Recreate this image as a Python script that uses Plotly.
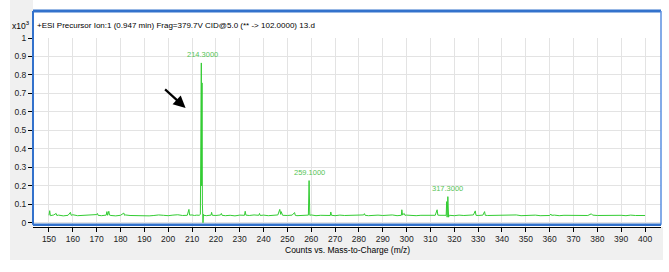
import plotly.graph_objects as go

# Spectrum profile (counts x10^3 vs m/z)
spectrum_mz = [
    150.0, 150.3, 150.6, 152.0, 153.0, 153.3, 154.0, 156.0, 158.0, 159.0, 159.3,
    160.0, 162.0, 164.0, 166.0, 168.0, 170.0, 170.3, 170.6, 172.0, 174.0, 174.3,
    174.6, 175.1, 175.4, 176.0, 178.0, 180.0, 181.4, 181.7, 182.0, 184.0, 186.0,
    188.0, 190.0, 192.0, 194.0, 196.0, 198.0, 200.0, 202.0, 204.0, 206.0, 208.0,
    208.7, 209.0, 210.0, 211.0, 212.0, 213.0, 213.5, 213.6, 213.7, 213.9, 214.0,
    214.2, 214.35, 214.6, 214.8, 215.0, 216.0, 218.0, 218.2, 218.5, 220.0, 222.0,
    222.3, 222.6, 224.0, 226.0, 228.0, 230.0, 232.0, 232.3, 232.6, 234.0, 236.0,
    238.0, 238.3, 238.6, 240.0, 242.0, 244.0, 246.0, 246.8, 247.2, 247.4, 247.7,
    248.0, 250.0, 252.0, 253.0, 253.3, 254.0, 256.0, 258.0, 258.8, 259.1, 259.4,
    260.0, 262.0, 264.0, 266.0, 268.0, 268.2, 268.5, 270.0, 272.0, 274.0, 276.0,
    278.0, 280.0, 282.0, 282.3, 282.6, 284.0, 286.0, 288.0, 290.0, 292.0, 294.0,
    296.0, 297.8, 298.0, 298.3, 299.0, 299.3, 300.0, 302.0, 304.0, 306.0, 308.0,
    310.0, 312.0, 312.8, 313.1, 314.0, 316.0, 316.6, 316.8, 317.0, 317.3, 317.6,
    317.9, 318.0, 320.0, 322.0, 324.0, 326.0, 328.0, 328.8, 329.1, 330.0, 332.0,
    332.7, 333.0, 334.0, 336.0, 338.0, 340.0, 342.0, 344.0, 346.0, 348.0, 350.0,
    352.0, 354.0, 356.0, 358.0, 360.0, 360.5, 360.8, 362.0, 364.0, 366.0, 368.0,
    370.0, 372.0, 374.0, 376.0, 377.5, 377.8, 378.0, 380.0, 382.0, 384.0, 386.0,
    388.0, 390.0, 392.0, 394.0, 396.0, 398.0, 400.0,
]
spectrum_int = [
    0.040, 0.065, 0.038, 0.042, 0.050, 0.039, 0.041, 0.037, 0.040, 0.056, 0.040,
    0.043, 0.038, 0.040, 0.039, 0.041, 0.044, 0.050, 0.040, 0.038, 0.041, 0.060,
    0.040, 0.062, 0.041, 0.039, 0.037, 0.040, 0.052, 0.040, 0.042, 0.039, 0.038,
    0.041, 0.040, 0.037, 0.039, 0.042, 0.040, 0.038, 0.041, 0.043, 0.039, 0.040,
    0.072, 0.041, 0.042, 0.039, 0.041, 0.040, 0.045, 0.250, 0.050, 0.865, 0.200,
    0.757, 0.100, 0.000, 0.045, 0.040, 0.038, 0.041, 0.056, 0.040, 0.039, 0.042,
    0.050, 0.040, 0.038, 0.040, 0.037, 0.041, 0.040, 0.062, 0.041, 0.039, 0.042,
    0.040, 0.050, 0.039, 0.041, 0.038, 0.040, 0.042, 0.072, 0.045, 0.060, 0.041,
    0.040, 0.039, 0.041, 0.055, 0.040, 0.038, 0.040, 0.039, 0.041, 0.228, 0.040,
    0.042, 0.038, 0.040, 0.041, 0.039, 0.058, 0.040, 0.038, 0.041, 0.039, 0.040,
    0.037, 0.040, 0.042, 0.049, 0.040, 0.038, 0.040, 0.041, 0.039, 0.040, 0.042,
    0.038, 0.040, 0.070, 0.042, 0.050, 0.040, 0.041, 0.039, 0.038, 0.040, 0.041,
    0.039, 0.040, 0.070, 0.041, 0.040, 0.041, 0.040, 0.114, 0.030, 0.141, 0.030,
    0.041, 0.040, 0.038, 0.041, 0.039, 0.040, 0.042, 0.064, 0.040, 0.039, 0.041,
    0.060, 0.040, 0.039, 0.040, 0.038, 0.041, 0.039, 0.040, 0.042, 0.038, 0.040,
    0.039, 0.041, 0.038, 0.040, 0.039, 0.047, 0.040, 0.041, 0.038, 0.040, 0.039,
    0.041, 0.038, 0.040, 0.039, 0.048, 0.040, 0.041, 0.039, 0.040, 0.038, 0.041,
    0.039, 0.040, 0.038, 0.041, 0.039, 0.040, 0.039,
]

# Labelled peaks
peak_mz = [214.3, 259.1, 317.3]
peak_top = [0.865, 0.228, 0.141]
peak_labels = ["214.3000", "259.1000", "317.3000"]

title_text = "+ESI Precursor Ion:1 (0.947 min) Frag=379.7V CID@5.0 (** -> 102.0000) 13.d"

FONT = "Liberation Sans Narrow, Arial Narrow, Liberation Sans, Arial"
GREEN = "#33cc33"
BLUE = "#3372cc"

fig = go.Figure()

fig.add_trace(go.Scatter(
    x=spectrum_mz,
    y=spectrum_int,
    mode="lines",
    line=dict(color=GREEN, width=1),
    showlegend=False,
    hoverinfo="skip",
))

# peak labels
for mz, top, lab in zip(peak_mz, peak_top, peak_labels):
    fig.add_annotation(
        x=mz, y=top, text=lab, showarrow=False,
        yanchor="middle", yshift=8,
        font=dict(family=FONT, size=7.5, color="#55c455"),
    )

# black arrow pointing at the main peak
fig.add_annotation(
    x=207.3, y=0.621, ax=-22, ay=-20,
    text="", showarrow=True,
    arrowhead=2, arrowsize=1.1, arrowwidth=2.2, arrowcolor="black",
)

# title strip text, multiplier and x title
fig.add_annotation(
    x=2 / 628, y=1, xref="paper", yref="paper", yshift=13,
    text=title_text, showarrow=False, xanchor="left", yanchor="middle",
    font=dict(family=FONT, size=8, color="black"),
)
fig.add_annotation(
    x=-12 / 628, y=1, xref="paper", yref="paper", yshift=13,
    text="x10<sup>3</sup>", showarrow=False, xanchor="center", yanchor="middle",
    font=dict(family=FONT, size=8.5, color="black"),
)
fig.add_annotation(
    x=0.5, y=(227 - 250) / 189, xref="paper", yref="paper",
    text="Counts vs. Mass-to-Charge (m/z)", showarrow=False,
    xanchor="center", yanchor="middle",
    font=dict(family=FONT, size=8.5, color="black"),
)

# grey window background (left column + bottom strip)
fig.add_shape(type="rect", xref="paper", yref="paper",
              x0=-23 / 628, x1=0, y0=(227 - 260) / 189, y1=227 / 189,
              fillcolor="#f0f0f0", line=dict(width=0), layer="below")
fig.add_shape(type="rect", xref="paper", yref="paper",
              x0=-23 / 628, x1=630 / 628, y0=(227 - 260) / 189, y1=0,
              fillcolor="#f0f0f0", line=dict(width=0), layer="below")

# blue frame
top_y = (227 - 11) / 189
bot_y = (227 - 224.8) / 189
fig.add_shape(type="line", xref="paper", yref="paper", x0=0, x1=1, y0=top_y, y1=top_y,
              line=dict(color=BLUE, width=3))
fig.add_shape(type="line", xref="paper", yref="paper", x0=0, x1=0, y0=bot_y, y1=top_y,
              line=dict(color=BLUE, width=2))
fig.add_shape(type="line", xref="paper", yref="paper", x0=1, x1=1, y0=bot_y, y1=top_y,
              line=dict(color="#5a8fe0", width=1.5))
fig.add_shape(type="line", xref="paper", yref="paper", x0=0, x1=1, y0=bot_y, y1=bot_y,
              line=dict(color=BLUE, width=2.5))

fig.update_layout(
    width=669, height=272,
    margin=dict(l=33, r=8, t=38, b=45),
    paper_bgcolor="white",
    plot_bgcolor="white",
    font=dict(family=FONT, size=8.5, color="#222"),
    showlegend=False,
    hovermode=False,
)

fig.update_xaxes(
    range=[143.3, 406.7],
    tick0=150, dtick=10,
    showgrid=True, gridcolor="#e3e3e3", gridwidth=1,
    zeroline=False,
    showline=True, linecolor="black", linewidth=1,
    ticks="outside", ticklen=4, tickcolor="black",
    tickfont=dict(family=FONT, size=8.5, color="#222"),
)
fig.update_yaxes(
    range=[-0.0233, 1.0],
    tick0=0, dtick=0.1,
    showgrid=True, gridcolor="#e3e3e3", gridwidth=1,
    zeroline=False,
    showline=False,
    ticks="outside", ticklen=4, tickcolor="black",
    tickfont=dict(family=FONT, size=8.5, color="#222"),
)

# drop the default 8px body margin so the figure sits at the page origin
fig.write_html("out.html", config={"displayModeBar": False},
               post_script="document.body.style.margin='0';")
